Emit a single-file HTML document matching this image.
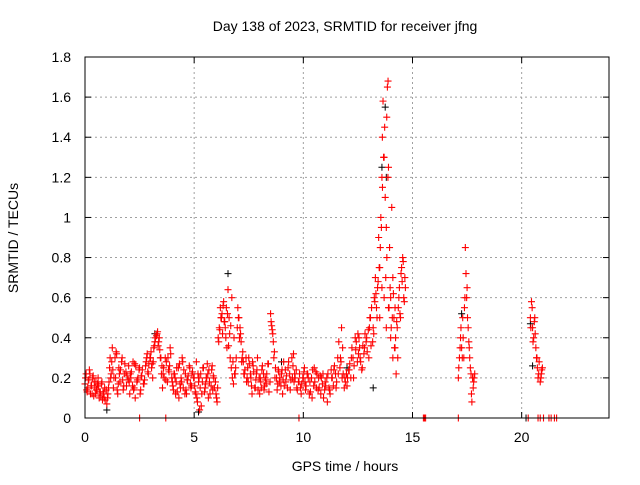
<!DOCTYPE html>
<html><head><meta charset="utf-8"><style>
body{margin:0;background:#fff;width:640px;height:480px;overflow:hidden}
svg text{font-family:"Liberation Sans",sans-serif;font-size:14px;fill:#000}
</style></head><body>
<svg id="chart" width="640" height="480" viewBox="0 0 640 480">
<text x="345" y="31" text-anchor="middle">Day 138 of 2023, SRMTID for receiver jfng</text>
<text transform="translate(18,238) rotate(-90)" text-anchor="middle">SRMTID / TECUs</text>
<text x="345" y="471" text-anchor="middle">GPS time / hours</text>
<g id="grid"></g>
<g id="ticks"></g>
<g id="black" stroke="#000" stroke-width="1"></g>
<g id="red" stroke="#f00" stroke-width="1.1"></g>
<rect x="85" y="57" width="524" height="361" fill="none" stroke="#000" stroke-width="1"/>
</svg>
<script>
const xTicks=[0,5,10,15,20];
const yTicks=[0,0.2,0.4,0.6,0.8,1,1.2,1.4,1.6,1.8];
const yTickLabels=["0","0.2","0.4","0.6","0.8","1","1.2","1.4","1.6","1.8"];
const redT=[0,.05,.1,.15,.2,.25,.3,.35,.4,.45,.5,.55,.6,.65,.7,.75,.8,.85,.9,1,1.05,1.1,1.15,1.2,1.25,1.3,1.4,1.45,1.5,1.55,1.6,1.7,1.75,1.8,1.9,2,2.05,2.1,2.2,2.25,2.3,2.4,2.5,2.55,2.6,2.7,2.8,2.85,2.9,3,3.05,3.1,3.15,3.2,3.3,3.35,3.4,3.45,3.5,3.55,3.6,3.7,3.8,3.85,3.9,4,4.05,4.1,4.15,4.2,4.3,4.35,4.4,4.45,4.5,4.6,4.65,4.7,4.8,4.85,4.9,5,5.05,5.1,5.15,5.2,5.25,5.3,5.35,5.4,5.5,5.55,5.6,5.65,5.7,5.8,5.85,5.9,6,6.05,6.1,6.15,6.2,6.25,6.3,6.35,6.4,6.45,6.5,6.55,6.6,6.65,6.7,6.75,6.8,6.85,6.9,7,7.05,7.1,7.15,7.2,7.25,7.3,7.4,7.45,7.5,7.6,7.65,7.7,7.8,7.85,7.9,8,8.05,8.1,8.2,8.25,8.3,8.4,8.5,8.55,8.6,8.65,8.7,8.8,8.85,8.9,9,9.05,9.1,9.2,9.3,9.4,9.5,9.55,9.6,9.7,9.8,9.9,10,10.05,10.1,10.2,10.3,10.4,10.5,10.6,10.7,10.8,10.9,11,11.1,11.2,11.3,11.4,11.5,11.6,11.7,11.75,11.8,11.9,12,12.1,12.2,12.3,12.4,12.5,12.55,12.6,12.7,12.8,12.9,13,13.05,13.1,13.2,13.25,13.3,13.35,13.4,13.45,13.5,13.55,13.6,13.62,13.65,13.7,13.75,13.8,13.82,13.85,13.88,13.9,13.95,14,14.05,14.1,14.15,14.2,14.25,14.3,14.35,14.4,14.45,14.5,14.55,14.6,14.65,13.5,13.6,13.7,13.8,13.9,14,14.1,14.2,17.1,17.15,17.2,17.25,17.3,17.35,17.4,17.42,17.45,17.5,17.55,17.6,17.65,17.7,17.72,17.75,17.8,17.85,20.4,20.45,20.5,20.55,20.6,20.65,20.7,20.75,20.8,20.85,20.9,20.95,2.5,3.7,9.8,15.5,15.55,15.6,17.1,20.3,20.75,20.85,21,21.25,21.35,21.5,21.6];
const redV=[.17,.22,.13,.19,.24,.12,.16,.2,.11,.15,.18,.14,.2,.1,.13,.17,.09,.12,.15,.07,.12,.18,.3,.22,.35,.15,.2,.32,.12,.25,.18,.3,.14,.22,.16,.26,.12,.2,.28,.15,.1,.19,.25,.14,.21,.17,.28,.32,.22,.3,.25,.2,.35,.38,.42,.36,.4,.3,.22,.15,.25,.19,.3,.23,.35,.18,.14,.22,.12,.25,.1,.17,.2,.3,.15,.22,.12,.19,.25,.15,.22,.2,.13,.28,.08,.18,.04,.22,.12,.25,.15,.2,.27,.1,.18,.24,.14,.2,.12,.08,.4,.45,.55,.5,.42,.58,.48,.4,.35,.64,.5,.3,.25,.2,.17,.22,.25,.55,.5,.45,.38,.3,.28,.22,.18,.25,.3,.2,.12,.26,.15,.22,.3,.12,.18,.24,.14,.2,.17,.27,.52,.46,.42,.3,.2,.14,.24,.18,.22,.12,.28,.18,.25,.14,.2,.32,.22,.15,.18,.12,.2,.25,.14,.22,.18,.1,.25,.15,.2,.12,.22,.18,.08,.14,.2,.24,.15,.22,.3,.45,.35,.2,.16,.24,.3,.2,.34,.42,.4,.3,.25,.35,.4,.3,.5,.36,.45,.6,.7,.55,.65,.9,.75,1,1.2,1.4,1.58,1.3,1.1,.95,1.5,1.65,1.68,1.25,.85,.6,1.05,.7,.5,.35,.22,.45,.55,.65,.5,.75,.8,.6,.7,.5,.65,.6,.45,.55,.4,.3,.55,.2,.3,.4,.35,.5,.3,.6,.85,.72,.65,.45,.35,.25,.12,.08,.2,.18,.22,.5,.58,.45,.4,.5,.35,.3,.2,.28,.18,.22,.25,0,0,0,0,0,0,0,0,0,0,0,0,0,0,0];
const redT2=[.025,.125,.225,.325,.425,.525,.625,.725,.825,.925,
1.025,1.125,1.225,1.325,1.425,1.525,1.625,1.725,1.825,1.925,
2.025,2.125,2.225,2.325,2.425,2.525,2.625,2.725,2.825,2.925,
3.025,3.125,3.225,3.325,3.425,3.525,3.625,3.725,3.825,3.925,
4.025,4.125,4.225,4.325,4.425,4.525,4.625,4.725,4.825,4.925,
5.025,5.125,5.225,5.325,5.425,5.525,5.625,5.725,5.825,5.925,
6.025,6.125,6.225,6.325,6.425,6.525,6.625,6.725,6.825,6.925,
7.025,7.125,7.225,7.325,7.425,7.525,7.625,7.725,7.825,7.925,
8.025,8.125,8.225,8.325,8.425,8.525,8.625,8.725,8.825,8.925,
9.025,9.125,9.225,9.325,9.425,9.525,9.625,9.725,9.825,9.925,
10.025,10.125,10.225,10.325,10.425,10.525,10.625,10.725,10.825,10.925,
11.025,11.125,11.225,11.325,11.425,11.525,11.625,11.725,11.825,11.925,
12.025,12.125,12.225,12.325,12.425,12.525,12.625,12.725,12.825,12.925,
13.025,13.125,13.225,13.325,13.425,13.525,13.625,13.725,13.825,13.925,
14.025,14.125,14.225,14.325,14.425,14.525,14.625];
const redV2=[.2,.15,.22,.12,.18,.14,.16,.11,.13,.09,
.1,.25,.28,.2,.33,.17,.24,.19,.27,.21,
.18,.23,.14,.26,.2,.12,.24,.19,.3,.27,
.33,.28,.4,.43,.34,.26,.2,.28,.24,.32,
.16,.2,.13,.27,.18,.24,.14,.21,.17,.23,
.16,.1,.2,.06,.25,.17,.22,.12,.26,.15,
.1,.38,.5,.56,.45,.52,.42,.6,.4,.3,
.5,.42,.33,.24,.2,.27,.16,.23,.19,.14,
.2,.26,.16,.22,.13,.48,.38,.25,.17,.2,
.24,.16,.21,.28,.19,.26,.2,.14,.22,.17,
.23,.16,.2,.13,.24,.18,.22,.15,.2,.1,
.16,.22,.12,.2,.26,.18,.38,.28,.22,.18,
.2,.27,.35,.26,.38,.32,.28,.36,.42,.33,
.45,.55,.42,.62,.68,.85,1.15,1.45,.8,.55,
.45,.62,.4,.3,.52,.68,.58];
const redT3=[.075,.175,.275,.375,.475,.575,.675,.775,.875,.975,
1.075,1.175,1.275,1.375,1.475,1.575,1.675,1.775,1.875,1.975,
2.075,2.175,2.275,2.375,2.475,2.575,2.675,2.775,2.875,2.975,
3.075,3.175,3.275,3.375,3.475,3.575,3.675,3.775,3.875,3.975,
4.075,4.175,4.275,4.375,4.475,4.575,4.675,4.775,4.875,4.975,
5.075,5.175,5.275,5.375,5.475,5.575,5.675,5.775,5.875,5.975,
6.075,6.175,6.275,6.375,6.475,6.575,6.675,6.775,6.875,6.975,
7.075,7.175,7.275,7.375,7.475,7.575,7.675,7.775,7.875,7.975,
8.075,8.175,8.275,8.375,8.475,8.575,8.675,8.775,8.875,8.975,
9.075,9.175,9.275,9.375,9.475,9.575,9.675,9.775,9.875,9.975,
10.075,10.175,10.275,10.375,10.475,10.575,10.675,10.775,10.875,10.975,
11.075,11.175,11.275,11.375,11.475,11.575,11.675,11.775,11.875,11.975,
12.075,12.175,12.275,12.375,12.475,12.575,12.675,12.775,12.875,12.975,
13.075,13.175,13.275,13.375,13.475,13.575,13.675,13.775,13.875,13.975,
14.075,14.175,14.275,14.375,14.475,14.575,14.675,
17.12,17.18,17.22,17.28,17.32,17.38,17.48,17.52,17.58,17.62,17.68,17.78,17.82,
20.42,20.48,20.52,20.58,20.62,20.68,20.72,20.78,20.88,20.92];
const redV3=[.14,.19,.16,.21,.12,.17,.13,.18,.1,.14,
.15,.2,.24,.3,.14,.22,.28,.16,.23,.19,
.22,.16,.27,.18,.24,.21,.17,.26,.23,.3,
.27,.36,.41,.38,.3,.22,.3,.18,.26,.2,
.22,.18,.25,.15,.28,.12,.19,.26,.16,.2,
.12,.22,.15,.18,.13,.2,.24,.16,.21,.18,
.15,.44,.52,.48,.55,.36,.46,.28,.22,.45,
.4,.28,.22,.3,.18,.22,.28,.15,.24,.2,
.15,.22,.19,.27,.18,.44,.33,.2,.23,.16,
.19,.24,.15,.22,.3,.18,.24,.18,.15,.2,
.18,.22,.12,.2,.16,.23,.14,.21,.17,.14,
.2,.15,.24,.16,.22,.3,.25,.2,.15,.22,
.24,.2,.3,.4,.28,.35,.24,.32,.38,.44,
.5,.38,.58,.5,.75,.95,1.3,.7,1.2,.65,
.5,.35,.48,.6,.72,.78,.65,
.25,.35,.45,.3,.4,.55,.6,.5,.38,.3,.22,.15,.2,
.45,.55,.38,.48,.42,.3,.25,.22,.2,.24];
const blackT=[6.55,13.75,13.6,13.8,17.25,20.4,20.5,1.0,5.2,13.2,12.0,3.2,9.0,20.2];
const blackV=[.72,1.55,1.25,1.2,.52,.47,.26,.04,.03,.15,.25,.42,.28,0];
const X=t=>85+t*524/24, Y=v=>418-v*361/1.8;
const NS="http://www.w3.org/2000/svg";
const grid=document.getElementById('grid'), ticks=document.getElementById('ticks');
function mk(tag,a,p){const e=document.createElementNS(NS,tag);for(const k in a)e.setAttribute(k,a[k]);p.appendChild(e);return e;}
xTicks.forEach(t=>{const x=X(t);
 if(t>0){const l=mk('line',{x1:x,x2:x,y1:57,y2:418,stroke:'#a0a0a0','stroke-dasharray':'2,3'},grid);
 
 }
 mk('line',{x1:x,x2:x,y1:418,y2:412,stroke:'#000'},ticks);mk('line',{x1:x,x2:x,y1:57,y2:63,stroke:'#000'},ticks);
 const tx=mk('text',{x:x,y:442,'text-anchor':'middle'},ticks);tx.textContent=t;
 
 });
yTicks.forEach((v,i)=>{const y=Y(v);
 if(v>0&&v<1.8){const l=mk('line',{x1:85,x2:609,y1:y,y2:y,stroke:'#a0a0a0','stroke-dasharray':'2,3'},grid);
 
 }
 mk('line',{x1:85,x2:91,y1:y,y2:y,stroke:'#000'},ticks);mk('line',{x1:603,x2:609,y1:y,y2:y,stroke:'#000'},ticks);
 const tx=mk('text',{x:71,y:y+5,'text-anchor':'end'},ticks);tx.textContent=yTickLabels[i];
 
 });
function plus(g,t,v){const x=X(t),y=Y(v);const p=mk('path',{d:`M${x-3.5},${y}h7M${x},${y-3.5}v7`},g);
 
 }
const bg=document.getElementById('black'),rg=document.getElementById('red');
blackT.forEach((t,i)=>plus(bg,t,blackV[i]));
redT.forEach((t,i)=>plus(rg,t,redV[i]));
redT2.forEach((t,i)=>plus(rg,t,redV2[i]));
redT3.forEach((t,i)=>plus(rg,t,redV3[i]));
</script>
</body></html>
